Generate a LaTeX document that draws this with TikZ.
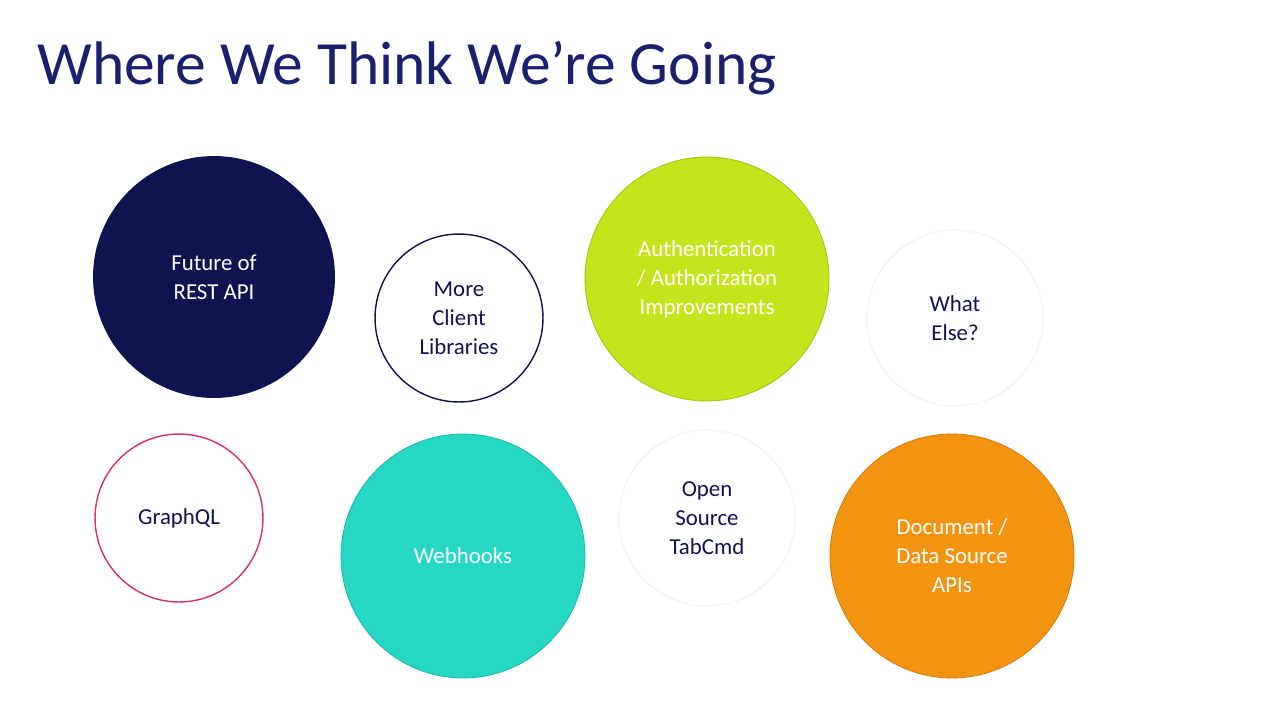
\documentclass[tikz,border=0pt]{standalone}
\usepackage{fontspec}
\setmainfont{Carlito}
\begin{document}
\begin{tikzpicture}[x=0.02cm,y=-0.02cm,
  bub/.style={circle,minimum size=#1*0.04cm,inner sep=0pt,align=center,font=\fontsize{13}{16.5}\selectfont},
  ]
\definecolor{navy}{HTML}{0F1450}
\definecolor{titlec}{HTML}{1A1F6E}
\definecolor{lime}{HTML}{C5E41C}
\definecolor{teal}{HTML}{26D8C4}
\definecolor{orng}{HTML}{F39410}
\definecolor{crim}{HTML}{D6306A}
\useasboundingbox (0,0) rectangle (1280,720);
\node[anchor=base west,inner sep=0pt,text=titlec,font=\fontsize{35}{40}\selectfont] (title) at (37,84) {Where We Think We’re Going};
\node[bub=121,fill=navy,text=white] (rest) at (214,277) {Future of\\REST API};
\node[bub=84,draw=navy,text=navy,line width=0.8pt] (lib) at (459,318) {More\\Client\\Libraries};
\node[bub=122,fill=lime,draw=lime!85!black,line width=0.5pt,text=white] (auth) at (707,279) {Authentication\\/ Authorization\\Improvements};
\node[bub=88,draw=gray!8,line width=1pt,text=navy] (else) at (955,318) {What\\Else?};
\node[bub=84,draw=crim,text=navy,line width=0.8pt] (gql) at (179,518) {GraphQL};
\node[bub=122,fill=teal,draw=teal!85!black,line width=0.5pt,text=white] (hook) at (463,556) {Webhooks};
\node[bub=88,draw=gray!8,line width=1pt,text=navy] (tab) at (707,518) {Open\\Source\\TabCmd};
\node[bub=122,fill=orng,draw=orng!85!black,line width=0.5pt,text=white] (doc) at (952,556) {Document /\\Data Source\\APIs};
\end{tikzpicture}
\end{document}
